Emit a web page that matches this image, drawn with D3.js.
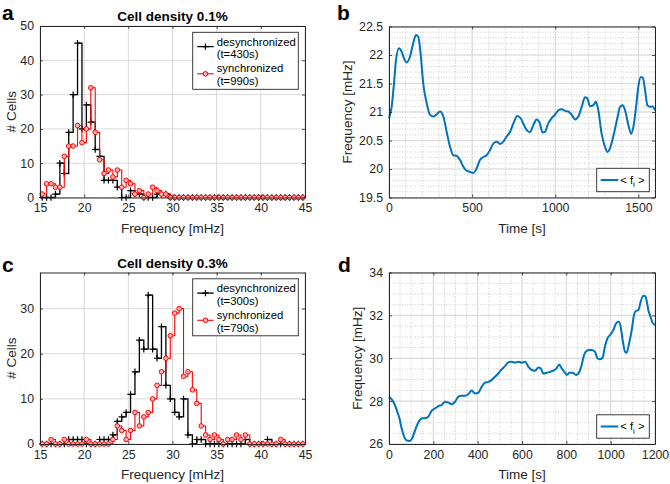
<!DOCTYPE html>
<html><head><meta charset="utf-8">
<script src="https://cdn.jsdelivr.net/npm/d3@7"></script>
<style>
body{margin:0;background:#fff;}
svg text{font-family:"Liberation Sans",Arial,Helvetica,sans-serif;}
</style></head>
<body><svg id="chart" width="670" height="484"></svg>
<script>
// ---------- DATA ----------
const binCenters = [15.25,15.75,16.25,16.75,17.25,17.75,18.25,18.75,19.25,19.75,20.25,20.75,21.25,21.75,22.25,22.75,23.25,23.75,24.25,24.75,25.25,25.75,26.25,26.75,27.25,27.75,28.25,28.75,29.25,29.75,30.25,30.75,31.25,31.75,32.25,32.75,33.25,33.75,34.25,34.75,35.25,35.75,36.25,36.75,37.25,37.75,38.25,38.75,39.25,39.75,40.25,40.75,41.25,41.75,42.25,42.75,43.25,43.75,44.25,44.75];

// panel a (cell density 0.1%)
const desyncA = [0,0,0,1,10,7,19,30,45,20,27,22,14,12,5,5,5,3,0,0,2,1,1,0,0,0,1,1,1,0, 0,0,0,0,0,0,0,0,0,0,0,0,0,0,0,0,0,0,0,0,0,0,0,0,0,0,0,0,0,0];
const syncA   = [1,4,4,3,3,12,15,15,21,16,20,32,19,11,7,8,6,8,3,5,4,1,2,0,1,3,2,1,1,0, 0,0,0,0,0,0,0,0,0,0,0,0,0,0,0,0,0,0,0,0,0,0,0,0,0,0,0,0,0,0];
// panel c (cell density 0.3%)
const desyncC = [0,0,0,0,0,0,1,1,1,1,0,0,0,1,1,1,2,5,6,7,11,16,23,21,33,21,19,26,13,10,7,6,10,2,0,1,1,0,0,0,0,0,0,0,0,0,1,0,0,0,0,1,0,0,0,0,0,0,0,0];
const syncC   = [0,0,1,0,0,1,0,0,0,0,1,0,0,0,0,0,1,4,3,1,3,7,4,6,7,10,13,16,19,24,29,30,15,16,12,9,4,2,1,2,1,0,1,1,2,1,2,0,0,0,0,0,0,0,1,0,0,0,0,0];

const legendA = ["desynchronized","(t=430s)","synchronized","(t=990s)"];
const legendC = ["desynchronized","(t=300s)","synchronized","(t=790s)"];

// panel b: mean frequency over time
const timeB = [0,16,30,42,60,76,90,106,126,146,162,176,190,206,227,247,267,287,307,327,347,367,387,407,427,447,467,487,507,527,547,567,587,607,628,648,668,688,708,728,748,772,792,812,832,848,868,888,904,924,938,958,978,998,1019,1039,1059,1079,1099,1119,1139,1159,1179,1193,1209,1229,1245,1259,1279,1299,1315,1329,1349,1371,1390,1406,1420,1440,1456,1470,1486,1500,1514,1526,1540,1554,1570,1584,1600];
const freqB = [20.89,21.09,21.50,21.91,22.12,22.06,21.94,21.87,21.97,22.21,22.35,22.32,22.03,21.50,21.15,20.95,20.92,20.96,21.01,20.92,20.65,20.39,20.24,20.23,20.16,20.04,19.97,19.95,19.93,20.01,20.16,20.21,20.24,20.33,20.45,20.48,20.44,20.48,20.57,20.65,20.80,20.93,20.89,20.77,20.67,20.65,20.77,20.87,20.83,20.64,20.65,20.80,20.89,20.95,21.03,21.05,21.02,21.01,20.95,20.87,20.92,21.09,21.26,21.24,21.10,21.12,21.18,21.03,20.62,20.39,20.30,20.36,20.57,20.86,21.09,21.12,21.03,20.77,20.62,20.74,21.09,21.45,21.61,21.61,21.39,21.12,21.09,21.10,21.03];

// panel d
const timeD = [0,12,23,35,47,57,68,80,92,102,113,125,137,149,162,177,192,208,223,238,253,268,283,298,313,328,343,358,373,388,403,418,433,448,463,478,493,508,523,538,553,568,583,599,614,629,644,659,674,684,696,711,726,741,756,768,779,791,802,814,829,844,859,869,880,892,904,914,929,941,952,964,974,985,997,1012,1024,1035,1045,1054,1065,1072,1083,1095,1105,1114,1125,1135,1147,1155,1162,1170,1180,1189,1200];
const freqD = [28.21,28.08,27.90,27.58,27.20,26.73,26.34,26.16,26.14,26.22,26.50,26.84,27.09,27.20,27.20,27.27,27.55,27.66,27.77,27.82,27.97,27.93,27.86,27.97,28.21,28.25,28.25,28.33,28.49,28.36,28.39,28.67,28.86,28.90,28.98,29.14,29.29,29.48,29.63,29.81,29.84,29.79,29.84,29.79,29.84,29.60,29.45,29.42,29.57,29.53,29.29,29.32,29.37,29.42,29.53,29.71,29.53,29.37,29.22,29.32,29.32,29.22,29.37,29.68,30.15,30.35,30.38,30.38,30.30,29.99,29.95,30.04,30.54,30.92,31.08,31.31,31.62,31.70,31.47,30.85,30.30,30.26,30.69,31.31,32.01,32.21,32.24,32.63,32.90,32.90,32.71,32.24,31.93,31.65,31.55];

// tick values / labels
const histXTicks = [15,20,25,30,35,40,45];
const yTicksA = [0,10,20,30,40,50];
const yTicksC = [0,10,20,30];
const xTicksB = [0,500,1000,1500];
const yTicksB = [19.5,20,20.5,21,21.5,22,22.5];
const yTickLabelsB = ["19.5","20","20.5","21","21.5","22","22.5"];
const xTicksD = [0,200,400,600,800,1000,1200];
const yTicksD = [26,28,30,32,34];

// ---------- DRAW ----------
const svg = d3.select("#chart");
const AX = "#262626";
const MAJ = "#d9d9d9";
const MIN = "#b9b9b9";
const BLUE = "#0072BD";

function frame(g, x, y, o){
  const [x0,x1] = x.range(), [y1,y0] = y.range();
  if(o.minorX){
    g.selectAll(null).data(o.minorX).join("line")
      .attr("x1",d=>x(d)).attr("x2",d=>x(d)).attr("y1",y0).attr("y2",y1)
      .attr("stroke",MIN).attr("stroke-width",0.7).attr("stroke-dasharray","1,1.6");
    g.selectAll(null).data(o.minorY).join("line")
      .attr("y1",d=>y(d)).attr("y2",d=>y(d)).attr("x1",x0).attr("x2",x1)
      .attr("stroke",MIN).attr("stroke-width",0.7).attr("stroke-dasharray","1,1.6");
  }
  g.selectAll(null).data(o.xTicks).join("line")
    .attr("x1",d=>x(d)).attr("x2",d=>x(d)).attr("y1",y0).attr("y2",y1)
    .attr("stroke",MAJ).attr("stroke-width",1);
  g.selectAll(null).data(o.yTicks).join("line")
    .attr("y1",d=>y(d)).attr("y2",d=>y(d)).attr("x1",x0).attr("x2",x1)
    .attr("stroke",MAJ).attr("stroke-width",1);
}
function axes(g, x, y, o){
  const [x0,x1] = x.range(), [y1,y0] = y.range();
  const fmtY = o.yLabels ? (d,i)=>o.yLabels[i] : d3.format("d");
  const bx = g.append("g").attr("transform",`translate(0,${y1})`)
    .call(d3.axisBottom(x).tickValues(o.xTicks).tickSize(-3).tickSizeOuter(0).tickPadding(6).tickFormat(d3.format("d")));
  const tx = g.append("g").attr("transform",`translate(0,${y0})`)
    .call(d3.axisTop(x).tickValues(o.xTicks).tickSize(-3).tickSizeOuter(0).tickFormat(""));
  const ly = g.append("g").attr("transform",`translate(${x0},0)`)
    .call(d3.axisLeft(y).tickValues(o.yTicks).tickSize(-3).tickSizeOuter(0).tickPadding(6).tickFormat(fmtY));
  const ry = g.append("g").attr("transform",`translate(${x1},0)`)
    .call(d3.axisRight(y).tickValues(o.yTicks).tickSize(-3).tickSizeOuter(0).tickFormat(""));
  [bx,tx,ly,ry].forEach(a=>{
    a.selectAll("path.domain").attr("stroke",AX).attr("stroke-width",1);
    a.selectAll(".tick line").attr("stroke",AX).attr("stroke-width",0.8);
    a.selectAll("text").attr("fill",AX).style("font-size","12.3px").style("font-family","Liberation Sans, Arial, sans-serif");
  });
}
function labels(g, x, y, o){
  const [x0,x1] = x.range(), [y1,y0] = y.range();
  g.append("text").attr("x",(x0+x1)/2).attr("y",y1+35).attr("text-anchor","middle")
    .style("font-size","13.5px").attr("fill",AX).text(o.xLabel);
  g.append("text").attr("transform",`translate(${o.yLabelX},${(y0+y1)/2}) rotate(-90)`)
    .attr("text-anchor","middle").style("font-size","13.5px").attr("fill",AX).text(o.yLabel);
  g.append("text").attr("x",o.letterX).attr("y",o.letterY).style("font-size","21px")
    .style("font-weight","bold").attr("fill","#000").text(o.letter);
  if(o.title) g.append("text").attr("x",(x0+x1)/2).attr("y",y0-5).attr("text-anchor","middle")
    .style("font-size","13.5px").style("font-weight","bold").attr("fill","#000").text(o.title);
}

function histPanel(box, yMax, yTicks, des, syn, leg, o){
  const g = svg.append("g");
  const x = d3.scaleLinear().domain([15,45]).range([box.x0,box.x1]);
  const y = d3.scaleLinear().domain([0,yMax]).range([box.y1,box.y0]);
  frame(g,x,y,{xTicks:histXTicks,yTicks:yTicks});
  const stairs = d3.line().x((d,i)=>x(binCenters[i])).y(d=>y(d)).curve(d3.curveStepAfter);
  g.append("path").datum(des).attr("d",stairs).attr("fill","none").attr("stroke","#000").attr("stroke-width",1.3);
  g.selectAll(null).data(des).join("path")
    .attr("d",(d,i)=>{const cx=x(binCenters[i]),cy=y(d);return `M${cx-3.2},${cy}H${cx+3.2}M${cx},${cy-3.2}V${cy+3.2}`;})
    .attr("stroke","#000").attr("stroke-width",1.2);
  g.append("path").datum(syn).attr("d",stairs).attr("fill","none").attr("stroke","#ff0000").attr("stroke-width",1.1);
  g.selectAll(null).data(syn).join("circle")
    .attr("cx",(d,i)=>x(binCenters[i])).attr("cy",d=>y(d)).attr("r",2.3)
    .attr("fill","#ffb3b3").attr("stroke","#ff0000").attr("stroke-width",1);
  axes(g,x,y,{xTicks:histXTicks,yTicks:yTicks});
  labels(g,x,y,o);
  const lx=box.x0+152.7, ly=box.y0+6.3, lw=105.6, lh=57;
  const L = g.append("g");
  L.append("rect").attr("x",lx).attr("y",ly).attr("width",lw).attr("height",lh)
    .attr("fill","#fff").attr("stroke",AX).attr("stroke-width",0.9);
  const rows=[ly+14.3, ly+41.5];
  L.append("line").attr("x1",lx+4.5).attr("x2",lx+21).attr("y1",rows[0]).attr("y2",rows[0]).attr("stroke","#000").attr("stroke-width",1.3);
  L.append("path").attr("d",`M${lx+9.5},${rows[0]}H${lx+16}M${lx+12.75},${rows[0]-3.2}V${rows[0]+3.2}`).attr("stroke","#000").attr("stroke-width",1.2);
  L.append("line").attr("x1",lx+4.5).attr("x2",lx+21).attr("y1",rows[1]).attr("y2",rows[1]).attr("stroke","#ff0000").attr("stroke-width",1.1);
  L.append("circle").attr("cx",lx+12.75).attr("cy",rows[1]).attr("r",2.3).attr("fill","#ffb3b3").attr("stroke","#ff0000");
  const ty=[ly+13.3, ly+26, ly+40, ly+52.7];
  leg.forEach((t,i)=>L.append("text").attr("x",lx+24).attr("y",ty[i]).style("font-size","11.3px").attr("fill","#000").text(t));
}

function linePanel(box, xDom, yDom, xTicks, yTicks, yLabels, minorX, minorY, tt, ff, o){
  const g = svg.append("g");
  const x = d3.scaleLinear().domain(xDom).range([box.x0,box.x1]);
  const y = d3.scaleLinear().domain(yDom).range([box.y1,box.y0]);
  frame(g,x,y,{xTicks,yTicks,minorX,minorY});
  const line = d3.line().x((d,i)=>x(tt[i])).y(d=>y(d)).curve(d3.curveMonotoneX);
  g.append("path").datum(ff).attr("d",line).attr("fill","none").attr("stroke",BLUE).attr("stroke-width",2);
  axes(g,x,y,{xTicks,yTicks,yLabels});
  labels(g,x,y,o);
  const lx=box.x0+207.7, lw=52.6, lh=23.4, ly=box.y1-29.2;
  const L=g.append("g");
  L.append("rect").attr("x",lx).attr("y",ly).attr("width",lw).attr("height",lh).attr("fill","#fff").attr("stroke",AX).attr("stroke-width",0.9);
  L.append("line").attr("x1",lx+4).attr("x2",lx+21.6).attr("y1",ly+11.7).attr("y2",ly+11.7).attr("stroke",BLUE).attr("stroke-width",2);
  const t=L.append("text").attr("x",lx+23.5).attr("y",ly+15.5).style("font-size","11.3px").attr("fill","#000");
  t.append("tspan").text("< f");
  t.append("tspan").attr("dy",3.5).style("font-size","8px").text("i");
  t.append("tspan").attr("dy",-3.5).text(" >");
}

const pa={x0:40,x1:305,y0:26,y1:197.5};
const pb={x0:389,x1:655,y0:26.5,y1:197.5};
const pc={x0:40,x1:305,y0:272.5,y1:444};
const pd={x0:389,x1:655,y0:272.5,y1:444};

histPanel(pa,50,yTicksA,desyncA,syncA,legendA,
  {xLabel:"Frequency [mHz]",yLabel:"# Cells",yLabelX:15.5,letter:"a",letterX:2,letterY:19.5,title:"Cell density 0.1%"});
histPanel(pc,38,yTicksC,desyncC,syncC,legendC,
  {xLabel:"Frequency [mHz]",yLabel:"# Cells",yLabelX:15.5,letter:"c",letterX:2,letterY:271.5,title:"Cell density 0.3%"});

const minorXB = d3.range(0,1601,100), minorYB = d3.range(195,226,1).map(v=>v/10);
const minorXD = d3.range(0,1201,50), minorYD = d3.range(52,69,1).map(v=>v/2);
linePanel(pb,[0,1600],[19.5,22.5],xTicksB,yTicksB,yTickLabelsB,minorXB,minorYB,timeB,freqB,
  {xLabel:"Time [s]",yLabel:"Frequency [mHz]",yLabelX:352,letter:"b",letterX:337,letterY:19.5});
linePanel(pd,[0,1200],[26,34],xTicksD,yTicksD,null,minorXD,minorYD,timeD,freqD,
  {xLabel:"Time [s]",yLabel:"Frequency [mHz]",yLabelX:362,letter:"d",letterX:338,letterY:271.5});
</script></body></html>
